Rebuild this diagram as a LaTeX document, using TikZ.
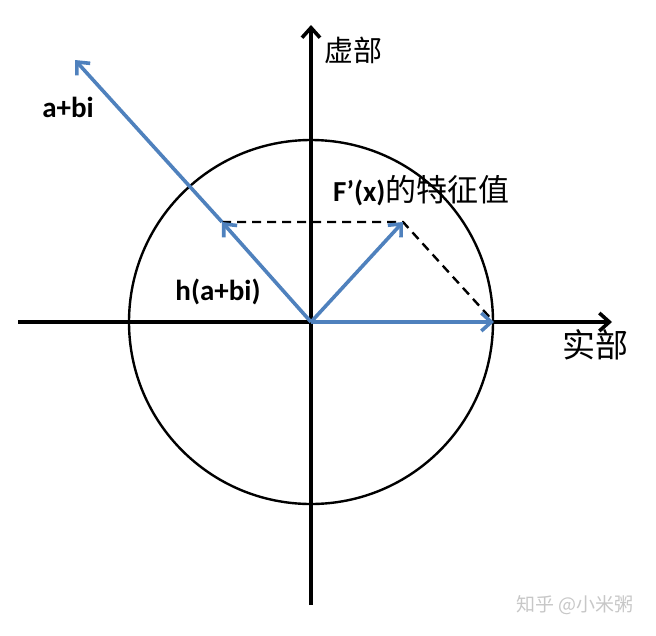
\documentclass[tikz,border=0pt]{standalone}
\usepackage{fontspec}
\setmainfont{Carlito}
\newfontfamily\cjk{Noto Sans CJK SC}
\usepackage{xcolor}
\definecolor{vecblue}{RGB}{79, 129, 189}
\usetikzlibrary{arrows.meta}

\begin{document}
\begin{tikzpicture}[x=1pt, y=-1pt, >={Straight Barb[length=10pt,width=18pt]}]
    \useasboundingbox (0,0) rectangle (656,635);
    \tikzset{
        axis/.style={line width=3.6pt},
        vec/.style={->, line width=3.6pt, vecblue},
        proj/.style={line width=2.4pt, dash pattern=on 9pt off 6pt},
        lab/.style={font=\bfseries\fontsize{29}{31}\selectfont, inner sep=0pt},
        hanzi/.style={font=\cjk\fontsize{29}{31}\selectfont, inner sep=0pt}
    }
    \coordinate (O) at (311,322);
    \coordinate (xstart) at (18,322);
    \coordinate (xend) at (612,322);
    \coordinate (ystart) at (311,605);
    \coordinate (yend) at (311,25);
    \coordinate (R) at (494,322);
    \coordinate (F) at (403,222);
    \coordinate (H) at (222,222);
    \coordinate (Z) at (75,60);

    % Unit circle
    \draw[line width=2.4pt] (O) circle (182pt);

    % Axes
    \draw[axis, ->] (xstart) -- (xend);
    \draw[axis, ->] (ystart) -- (yend);

    % Projection
    \draw[proj] (H) -- (F) -- (R);

    % Vectors
    \draw[vec] (O) -- (R);
    \draw[vec] (O) -- (F);
    \draw[vec] (O) -- (H);
    \draw[vec] (H) -- (Z);

    % Labels
    \node[lab] (zlab) at (68,107) {a+bi};
    \node[lab] (hlab) at (218,292) {h(a+bi)};
    \node[lab, anchor=west] (flab) at (333,191) {F’(x)\mdseries\cjk\fontsize{31}{33}\selectfont 的特征值};
    \node[hanzi, anchor=west] (ylab) at (324,50) {虚部};
    \node[hanzi, anchor=west, font=\cjk\fontsize{33}{35}\selectfont] (xlab) at (562,345) {实部};
    \node[font=\cjk\fontsize{19}{21}\selectfont, text=black!22, anchor=west] (mark) at (513,605) {知乎 @小米粥};
\end{tikzpicture}
\end{document}
